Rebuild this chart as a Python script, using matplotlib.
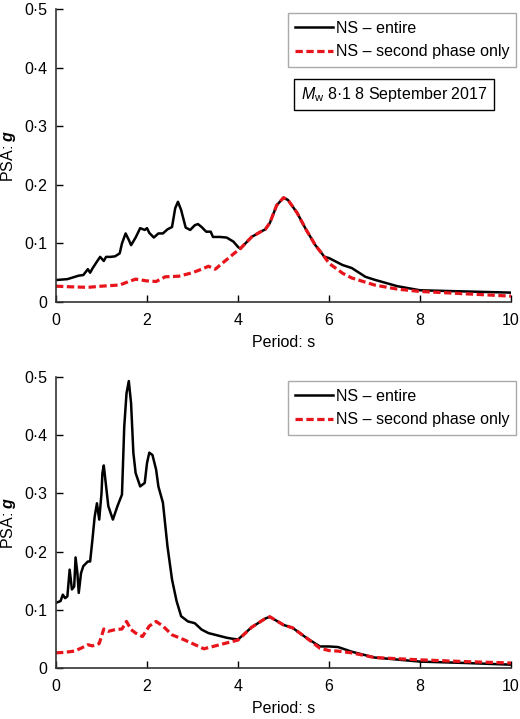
import matplotlib
matplotlib.use("Agg")
import matplotlib.pyplot as plt

plt.rcParams['font.family'] = ['Liberation Sans', 'DejaVu Sans']
plt.rcParams['mathtext.fontset'] = 'custom'
plt.rcParams['mathtext.rm'] = 'Liberation Sans'
plt.rcParams['mathtext.it'] = 'Liberation Sans:italic'
plt.rcParams['mathtext.bf'] = 'Liberation Sans:bold'
plt.rcParams['mathtext.bfit'] = 'Liberation Sans:bold:italic'

# top panel: Mw 8.1, 8 September 2017
top_entire_T = [0, 0.25, 0.5, 0.6, 0.7, 0.75, 0.8, 0.9, 0.97, 1.05, 1.1, 1.2, 1.3, 1.4, 1.45,
                1.53, 1.6, 1.65, 1.75, 1.85, 1.95, 2.0, 2.05, 2.15, 2.25, 2.35, 2.45, 2.55,
                2.62, 2.68, 2.75, 2.85, 2.95, 3.05, 3.12, 3.2, 3.3, 3.4, 3.45, 3.6, 3.75,
                3.9, 4.0, 4.05, 4.3, 4.5, 4.6, 4.7, 4.85, 5.0, 5.1, 5.3, 5.5, 5.7, 5.9,
                6.0, 6.3, 6.5, 6.8, 7.0, 7.5, 8.0, 9.0, 10.0]
top_entire = [0.0375, 0.039, 0.045, 0.046, 0.056, 0.05, 0.057, 0.069, 0.077, 0.070, 0.077,
              0.077, 0.078, 0.083, 0.100, 0.117, 0.106, 0.097, 0.110, 0.126, 0.123, 0.126,
              0.118, 0.110, 0.117, 0.117, 0.124, 0.128, 0.160, 0.171, 0.157, 0.127, 0.123,
              0.131, 0.133, 0.128, 0.120, 0.120, 0.111, 0.111, 0.110, 0.103, 0.094, 0.091,
              0.111, 0.120, 0.124, 0.135, 0.165, 0.178, 0.174, 0.152, 0.123, 0.097, 0.077,
              0.075, 0.063, 0.058, 0.043, 0.038, 0.027, 0.020, 0.018, 0.016]
top_second_T = [0, 0.3, 0.7, 1.0, 1.4, 1.6, 1.75, 2.0, 2.2, 2.4, 2.7, 3.0, 3.2, 3.35, 3.5,
                3.7, 3.9, 4.05, 4.3, 4.5, 4.6, 4.7, 4.85, 5.0, 5.1, 5.3, 5.5, 5.7, 5.9,
                6.0, 6.3, 6.5, 7.0, 7.5, 8.0, 9.0, 10.0]
top_second = [0.027, 0.026, 0.025, 0.027, 0.029, 0.035, 0.039, 0.036, 0.035, 0.043, 0.044,
              0.050, 0.056, 0.061, 0.056, 0.069, 0.082, 0.091, 0.111, 0.120, 0.124, 0.135,
              0.165, 0.178, 0.174, 0.152, 0.123, 0.097, 0.077, 0.066, 0.049, 0.041, 0.029,
              0.022, 0.018, 0.014, 0.010]

# bottom panel
bot_entire_T = [0, 0.1, 0.15, 0.2, 0.25, 0.3, 0.35, 0.4, 0.43, 0.47, 0.5, 0.55, 0.6, 0.7,
                0.75, 0.8, 0.85, 0.9, 0.95, 1.0, 1.02, 1.05, 1.1, 1.15, 1.25, 1.35, 1.45,
                1.5, 1.55, 1.6, 1.65, 1.7, 1.75, 1.85, 1.95, 2.0, 2.05, 2.12, 2.2, 2.25,
                2.35, 2.45, 2.55, 2.65, 2.75, 2.9, 3.05, 3.2, 3.35, 3.5, 3.75, 3.9, 4.0,
                4.3, 4.5, 4.6, 4.7, 5.0, 5.2, 5.5, 5.8, 6.0, 6.2, 6.5, 7.0, 8.0, 9.0, 10.0]
bot_entire = [0.112, 0.115, 0.126, 0.120, 0.123, 0.169, 0.135, 0.140, 0.190, 0.163, 0.129,
              0.163, 0.175, 0.183, 0.183, 0.220, 0.260, 0.283, 0.255, 0.300, 0.335, 0.348,
              0.313, 0.278, 0.255, 0.278, 0.298, 0.415, 0.472, 0.493, 0.455, 0.370, 0.335,
              0.312, 0.318, 0.352, 0.370, 0.366, 0.341, 0.312, 0.284, 0.209, 0.152, 0.115,
              0.089, 0.080, 0.077, 0.066, 0.060, 0.057, 0.052, 0.050, 0.049, 0.070, 0.080,
              0.085, 0.088, 0.074, 0.069, 0.052, 0.037, 0.037, 0.036, 0.028, 0.018, 0.011,
              0.0086, 0.0057]
bot_second_T = [0, 0.2, 0.4, 0.55, 0.7, 0.8, 0.95, 1.05, 1.15, 1.3, 1.45, 1.55, 1.65, 1.75,
                1.9, 2.05, 2.2, 2.35, 2.55, 2.8, 3.0, 3.25, 3.5, 3.75, 4.0, 4.3, 4.5, 4.6,
                4.7, 5.0, 5.2, 5.5, 5.8, 6.0, 6.2, 6.5, 7.0, 8.0, 9.0, 10.0]
bot_second = [0.026, 0.027, 0.029, 0.034, 0.040, 0.038, 0.042, 0.067, 0.063, 0.066, 0.067,
              0.080, 0.066, 0.060, 0.054, 0.072, 0.080, 0.072, 0.057, 0.049, 0.042, 0.033,
              0.038, 0.043, 0.048, 0.070, 0.080, 0.085, 0.088, 0.074, 0.069, 0.052, 0.034,
              0.030, 0.029, 0.026, 0.018, 0.014, 0.011, 0.0086]

yticks = [0, 0.1, 0.2, 0.3, 0.4, 0.5]
ytick_labels = ['0', '0·1', '0·2', '0·3', '0·4', '0·5']
xticks = [0, 2, 4, 6, 8, 10]
fs = 11.5

fig = plt.figure(figsize=(5.2, 7.19), dpi=100)
ax1 = fig.add_axes([56/520, 1 - 302/719, 455/520, 293/719])
ax2 = fig.add_axes([56/520, 1 - 668/719, 455/520, 291/719])

panels = [(ax1, top_entire_T, top_entire, top_second_T, top_second),
          (ax2, bot_entire_T, bot_entire, bot_second_T, bot_second)]
for ax, te, ye, ts, ys in panels:
    ax.plot(te, ye, color='black', lw=1.8, label='NS – entire')
    ax.plot(ts, ys, color='#e8141b', lw=2.3, ls=(0, (2.3, 1.1)), label='NS – second phase only')
    ax.set_xlim(0, 10)
    ax.set_ylim(0, 0.5)
    ax.set_xticks(xticks)
    ax.set_yticks(yticks)
    ax.set_yticklabels(ytick_labels)
    ax.tick_params(direction='in', length=5, width=1, labelsize=fs, colors='black')
    ax.tick_params(axis='x', pad=8)
    ax.tick_params(axis='y', pad=6)
    for s in ['top', 'right']:
        ax.spines[s].set_visible(False)
    for s in ['left', 'bottom']:
        ax.spines[s].set_linewidth(1.2)
        ax.spines[s].set_color('#333333')
    ax.set_xlabel('Period: s', fontsize=fs, labelpad=5)
    ax.set_ylabel(r'PSA: $\mathbfit{g}$', fontsize=fs, labelpad=5)
    leg = ax.legend(loc='upper right', bbox_to_anchor=(1.012, 0.985), fontsize=fs,
                    handlelength=2.4, handletextpad=0.15, borderpad=0.45, labelspacing=0.55,
                    fancybox=False, framealpha=1, borderaxespad=0)
    leg.get_frame().set_edgecolor('#aaaaaa')
    leg.get_frame().set_linewidth(1.0)

ax1.text(0.538, 0.708, r'$M_{\rm w}$ 8·1 8 September 2017', transform=ax1.transAxes,
         fontsize=fs, va='center', ha='left',
         bbox=dict(boxstyle='square,pad=0.4', fc='white', ec='black', lw=1.0))

fig.savefig('out.png', dpi=100)
